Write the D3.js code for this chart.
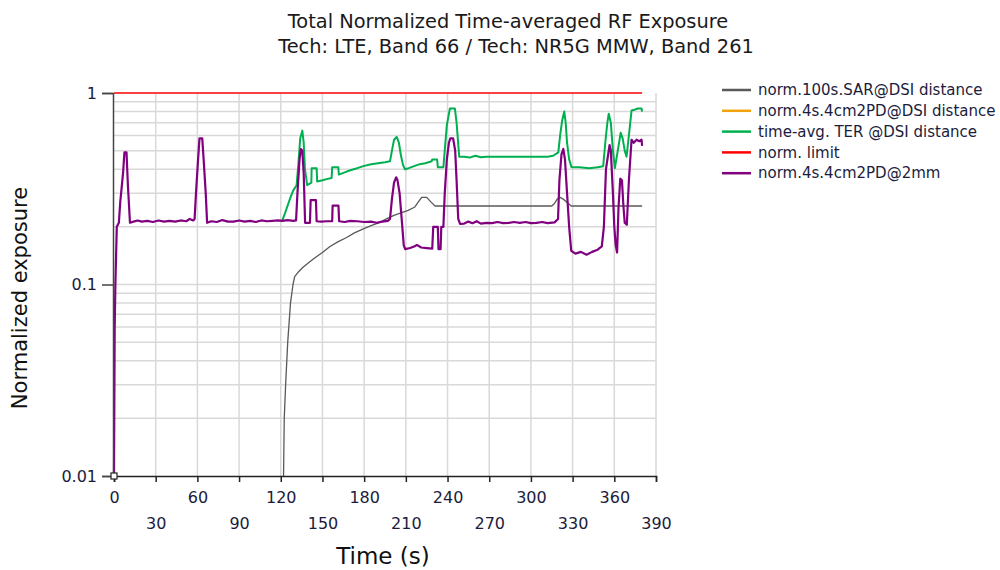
<!DOCTYPE html>
<html>
<head>
<meta charset="utf-8">
<script src="https://cdn.jsdelivr.net/npm/d3@7"></script>
<style>
  body { margin: 0; background: #fff; }
  text { font-family: "DejaVu Sans", Verdana, sans-serif; }
</style>
</head>
<body>
<div id="chart"></div>
<script>
const width = 1000,
  height = 570,
  margin = { top: 93, bottom: 94, left: 114, right: 344 };

const titleLines = [
  "Total Normalized Time-averaged RF Exposure",
  "Tech: LTE, Band 66 / Tech: NR5G MMW, Band 261"
];

const xTicks = d3.range(0, 391, 30);
const yTicks = [0.01, 0.1, 1];
const yGrid = [0.02, 0.03, 0.04, 0.05, 0.06, 0.07, 0.08, 0.09, 0.1,
  0.2, 0.3, 0.4, 0.5, 0.6, 0.7, 0.8, 0.9];

const seriesNames = [
  "norm.100s.SAR@DSI distance",
  "norm.4s.4cm2PD@DSI distance",
  "time-avg. TER @DSI distance",
  "norm. limit",
  "norm.4s.4cm2PD@2mm"
];
const seriesColors = ["#595959", "#f0a30a", "#00b050", "#ff0000", "#800080"];

// [time (s), normalized value]
const sarDsi = [
  [122, 0.01], [122.5, 0.02], [123.5, 0.03], [125, 0.05], [127, 0.08], [128.8, 0.1],
  [130, 0.11], [133, 0.117], [136, 0.123], [140, 0.13], [143.4, 0.136], [150, 0.147],
  [155.4, 0.158], [161, 0.167], [167.4, 0.176], [173, 0.186], [179.4, 0.195], [185, 0.203],
  [191.4, 0.211], [196, 0.22], [201, 0.229], [206, 0.236], [211.7, 0.244], [216.5, 0.254],
  [219, 0.27], [221.4, 0.285], [225, 0.285], [228, 0.27], [231, 0.257], [315, 0.257],
  [317, 0.265], [319, 0.28], [321, 0.285], [323, 0.28], [325.7, 0.27], [329, 0.257], [380, 0.257]
];

const pdDsi = [];

const terDsi = [
  [121, 0.215], [123, 0.235], [125.4, 0.264], [127, 0.285], [129, 0.31], [131.4, 0.33],
  [132.6, 0.42], [134, 0.58], [135.5, 0.636], [136.5, 0.55], [137.4, 0.4], [139, 0.33],
  [142, 0.34], [142.2, 0.405], [145.8, 0.405], [146.2, 0.345], [150, 0.35], [153, 0.355],
  [156.6, 0.36], [157, 0.41], [161.4, 0.41], [161.8, 0.375], [166, 0.385], [170, 0.395],
  [175, 0.405], [179.4, 0.415], [185, 0.425], [190, 0.43], [195, 0.435], [198.6, 0.44],
  [200, 0.5], [201.5, 0.57], [203.4, 0.59], [205, 0.55], [206.5, 0.47], [208, 0.42],
  [209.4, 0.4], [212, 0.405], [216, 0.415], [220, 0.425], [224, 0.43], [228.6, 0.44],
  [229, 0.45], [232.5, 0.45], [233, 0.41], [237, 0.41], [238, 0.5], [239.5, 0.68],
  [241.7, 0.83], [245.3, 0.83], [246.5, 0.7], [248.4, 0.465], [252, 0.465], [256, 0.46],
  [260, 0.47], [264, 0.462], [268, 0.465], [275, 0.465], [285, 0.465], [295, 0.465],
  [305, 0.465], [312, 0.465], [316, 0.47], [319.7, 0.49], [321, 0.6], [322.5, 0.72],
  [324, 0.8], [325, 0.7], [326, 0.55], [327.5, 0.45], [329.2, 0.41], [335, 0.41],
  [342, 0.405], [348, 0.41], [352, 0.415], [353.5, 0.55], [355, 0.7], [356, 0.78],
  [357.5, 0.7], [359, 0.5], [360.4, 0.405], [362.5, 0.5], [364.6, 0.62], [366, 0.58],
  [367.5, 0.5], [368.8, 0.465], [370.5, 0.6], [372.4, 0.81], [375, 0.82], [377, 0.83],
  [379.6, 0.83], [380, 0.8]
];

const limit = [[0, 1], [380, 1]];

const pd2mm = [
  [0, 0.01], [0.5, 0.06], [1, 0.1], [2, 0.2], [3.5, 0.21], [4.5, 0.27], [6.5, 0.38],
  [7.5, 0.49], [9, 0.49], [10, 0.33], [11.5, 0.21], [14, 0.213], [17, 0.216], [20, 0.213],
  [24, 0.215], [28, 0.212], [32, 0.216], [36, 0.213], [40, 0.215], [44, 0.213], [48, 0.216],
  [52, 0.214], [54.5, 0.22], [57, 0.216], [58, 0.22], [59, 0.3], [60.5, 0.45], [61.5, 0.58],
  [63.5, 0.58], [64.5, 0.45], [66, 0.3], [67, 0.21], [70, 0.214], [74, 0.212], [78, 0.217],
  [82, 0.213], [86, 0.213], [90, 0.216], [94, 0.213], [98, 0.215], [102, 0.212], [106, 0.216],
  [110, 0.214], [114, 0.215], [118, 0.216], [121, 0.215], [125, 0.217], [129, 0.215],
  [131, 0.216], [132, 0.3], [133.5, 0.45], [134.5, 0.51], [135.5, 0.5], [136.5, 0.38],
  [137.5, 0.21], [141, 0.21], [141.5, 0.276], [145.3, 0.276], [145.8, 0.214], [149, 0.213],
  [153, 0.214], [157, 0.214], [157.3, 0.258], [161.5, 0.258], [162, 0.214], [166, 0.212],
  [170, 0.215], [175, 0.214], [180, 0.212], [185, 0.213], [189, 0.21], [193, 0.213],
  [197, 0.215], [198.6, 0.22], [200, 0.28], [201.5, 0.34], [203, 0.363], [204, 0.35],
  [205.5, 0.3], [207, 0.22], [208.5, 0.16], [209.5, 0.153], [213, 0.155], [216, 0.158],
  [218, 0.161], [221, 0.156], [225, 0.155], [229, 0.154], [229.7, 0.2], [233, 0.2],
  [233.5, 0.153], [235, 0.153], [235.5, 0.2], [237, 0.2], [238, 0.3], [239.5, 0.45],
  [241, 0.55], [242, 0.58], [244, 0.58], [245.5, 0.5], [246.5, 0.35], [247.7, 0.22],
  [249, 0.207], [252, 0.208], [255, 0.213], [258, 0.209], [261, 0.214], [264, 0.208],
  [268, 0.21], [272, 0.209], [276, 0.212], [280, 0.209], [284, 0.21], [288, 0.212],
  [292, 0.21], [296, 0.212], [300, 0.209], [304, 0.21], [308, 0.212], [312, 0.209],
  [317, 0.211], [319.5, 0.22], [320.5, 0.35], [322, 0.48], [323.3, 0.51], [324.5, 0.45],
  [326, 0.3], [327.5, 0.2], [329, 0.15], [332, 0.145], [336, 0.148], [340, 0.143],
  [344, 0.148], [348, 0.152], [351, 0.158], [352.5, 0.2], [354, 0.4], [356.6, 0.535],
  [357.5, 0.5], [359, 0.3], [360, 0.2], [361, 0.16], [362, 0.147], [363, 0.25],
  [364.3, 0.357], [365.5, 0.35], [366.5, 0.26], [367.5, 0.21], [369, 0.205], [370.5, 0.35],
  [372.4, 0.57], [374, 0.55], [376, 0.57], [378, 0.56], [379.6, 0.57], [380, 0.53]
];

const seriesData = [sarDsi, pdDsi, terDsi, limit, pd2mm];
const seriesWidths = [1.3, 2, 2, 1.6, 2.2];

const svg = d3.select("#chart")
  .append("svg")
  .attr("width", width)
  .attr("height", height);

const xScale = d3.scaleLinear()
  .domain([0, 390])
  .range([margin.left, width - margin.right]);

const yScale = d3.scaleLog()
  .domain([0.01, 1])
  .range([height - margin.bottom, margin.top]);

// title
svg.selectAll(".title")
  .data(titleLines)
  .join("text")
  .attr("class", "title")
  .attr("x", (d, i) => i === 0 ? 508 : 516)
  .attr("y", (d, i) => 28 + i * 24.5)
  .attr("text-anchor", "middle")
  .attr("font-size", 19.4)
  .attr("fill", "#1a1a1a")
  .text(d => d);

// grid
svg.append("g")
  .selectAll("line")
  .data(yGrid)
  .join("line")
  .attr("x1", margin.left)
  .attr("x2", width - margin.right)
  .attr("y1", d => yScale(d))
  .attr("y2", d => yScale(d))
  .attr("stroke", "#d9d9d9")
  .attr("stroke-width", 1.5);

svg.append("g")
  .selectAll("line")
  .data(xTicks.slice(1))
  .join("line")
  .attr("x1", d => xScale(d))
  .attr("x2", d => xScale(d))
  .attr("y1", margin.top)
  .attr("y2", height - margin.bottom)
  .attr("stroke", "#d9d9d9")
  .attr("stroke-width", 1.5);

// lines
const line = d3.line()
  .x(d => xScale(d[0]))
  .y(d => yScale(d[1]));

svg.append("g")
  .selectAll("path")
  .data(seriesData)
  .join("path")
  .attr("fill", "none")
  .attr("stroke", (d, i) => seriesColors[i])
  .attr("stroke-width", (d, i) => seriesWidths[i])
  .attr("stroke-linejoin", "round")
  .attr("d", d => d.length ? line(d) : null);

// axes
const xAxis = d3.axisBottom(xScale)
  .tickValues(xTicks)
  .tickSize(6)
  .tickFormat(d3.format("d"));

const gx = svg.append("g")
  .attr("transform", `translate(0,${height - margin.bottom})`)
  .call(xAxis);
gx.select(".domain").attr("stroke", "#222").attr("stroke-width", 1.5);
gx.selectAll(".tick line").attr("stroke", "#222").attr("stroke-width", 1.5);
gx.selectAll(".tick text")
  .attr("font-size", 16)
  .attr("font-family", "DejaVu Sans, Verdana, sans-serif")
  .attr("fill", "#1c1c3c")
  .attr("y", (d, i) => i % 2 === 0 ? 16 : 42);

const yAxis = d3.axisLeft(yScale)
  .tickValues(yTicks)
  .tickSize(11)
  .tickPadding(5)
  .tickFormat(d => d === 1 ? "1" : String(d));

const gy = svg.append("g")
  .attr("transform", `translate(${margin.left - 1},0)`)
  .call(yAxis);
gy.select(".domain").attr("stroke", "#444").attr("stroke-width", 1.5);
gy.selectAll(".tick line").attr("stroke", "#444").attr("stroke-width", 1.5);
gy.selectAll(".tick text")
  .attr("font-size", 16)
  .attr("font-family", "DejaVu Sans, Verdana, sans-serif")
  .attr("fill", "#1c1c3c");

// origin marker
svg.append("rect")
  .attr("x", xScale(0) - 3)
  .attr("y", yScale(0.01) - 3)
  .attr("width", 6)
  .attr("height", 6)
  .attr("fill", "#fff")
  .attr("stroke", "#222")
  .attr("stroke-width", 1.2);

// axis labels
svg.append("text")
  .attr("x", 383)
  .attr("y", 564)
  .attr("text-anchor", "middle")
  .attr("font-size", 23)
  .attr("fill", "#111")
  .text("Time (s)");

svg.append("text")
  .attr("transform", "translate(27,298) rotate(-90)")
  .attr("text-anchor", "middle")
  .attr("font-size", 21)
  .attr("fill", "#111")
  .text("Normalized exposure");

// legend
const legend = svg.append("g")
  .selectAll("g")
  .data(seriesNames)
  .join("g")
  .attr("transform", (d, i) => `translate(722,${90 + i * 20.8})`);

legend.append("line")
  .attr("x1", 0)
  .attr("x2", 29)
  .attr("stroke", (d, i) => seriesColors[i])
  .attr("stroke-width", 2.5);

legend.append("text")
  .attr("x", 36)
  .attr("dy", "0.35em")
  .attr("font-size", 15)
  .attr("fill", "#1c1c3c")
  .text(d => d);
</script>
</body>
</html>
